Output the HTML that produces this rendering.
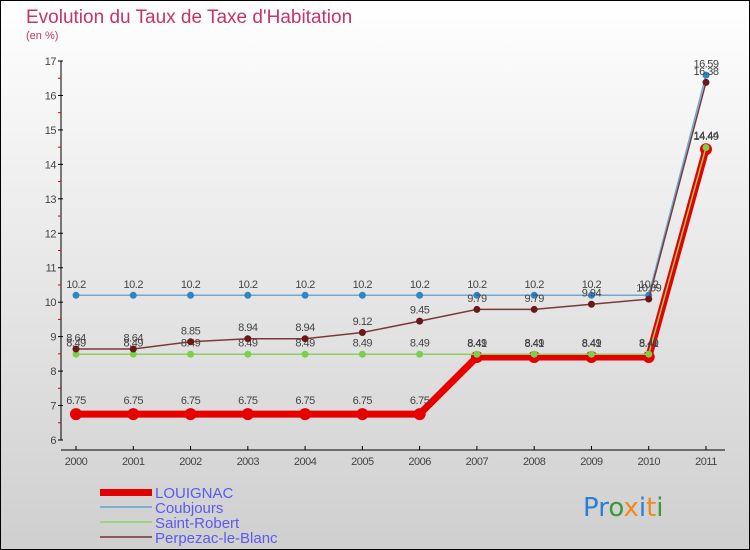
<!DOCTYPE html>
<html><head><meta charset="utf-8"><style>
body{margin:0;}
svg{display:block;font-family:"Liberation Sans",sans-serif;}
</style></head><body>
<svg id="chart" width="750" height="550" viewBox="0 0 750 550">
<defs><linearGradient id="bg" x1="0" y1="0" x2="0" y2="1"><stop offset="0" stop-color="#ffffff"/><stop offset="1" stop-color="#cfcfcf"/></linearGradient></defs>
<rect x="0.5" y="0.5" width="749" height="549" fill="url(#bg)" stroke="#000"/>
<text x="26" y="23" font-size="19" fill="#c8336a">Evolution du Taux de Taxe d'Habitation</text>
<text x="26" y="39" font-size="11" fill="#c8336a">(en %)</text>
<g id="axes"></g>
<g id="series"></g>
<g id="legend">
<rect x="100" y="489" width="52" height="7" fill="#e00000"/>
<text x="155" y="498" font-size="15" fill="#5a5af0">LOUIGNAC</text>
<rect x="100" y="506" width="52" height="2" fill="#7ab0d0"/>
<text x="155" y="513" font-size="15" fill="#5a5af0">Coubjours</text>
<rect x="100" y="521" width="52" height="2" fill="#9ed47a"/>
<text x="155" y="528" font-size="15" fill="#5a5af0">Saint-Robert</text>
<rect x="100" y="536" width="52" height="2" fill="#8a5a5a"/>
<text x="155" y="543" font-size="15" fill="#5a5af0">Perpezac-le-Blanc</text>
</g>
<g font-size="26" font-family="'DejaVu Sans',sans-serif">
<text x="583" y="516"><tspan fill="#2a7fd4">Pr</tspan><tspan fill="#3a9a3a">o</tspan><tspan fill="#f08a1a">x</tspan><tspan fill="#2a7fd4">i</tspan><tspan fill="#f08a1a">t</tspan><tspan fill="#3a9a3a">i</tspan></text>
</g>
</svg>
<script>
const years = [2000,2001,2002,2003,2004,2005,2006,2007,2008,2009,2010,2011];
const louignac = [6.75,6.75,6.75,6.75,6.75,6.75,6.75,8.41,8.41,8.41,8.41,14.44];
const coubjours = [10.2,10.2,10.2,10.2,10.2,10.2,10.2,10.2,10.2,10.2,10.2,16.59];
const saintRobert = [8.49,8.49,8.49,8.49,8.49,8.49,8.49,8.49,8.49,8.49,8.49,14.49];
const perpezac = [8.64,8.64,8.85,8.94,8.94,9.12,9.45,9.79,9.79,9.94,10.09,16.38];
const yTicks = [6,7,8,9,10,11,12,13,14,15,16,17];

const NS="http://www.w3.org/2000/svg";
const x0=76, x1=706, yTop=61, yBot=440, vMin=6, vMax=17;
const xs=i=>x0+(x1-x0)*i/(years.length-1);
const ys=v=>yBot-(v-vMin)*(yBot-yTop)/(vMax-vMin);
function mk(tag,attrs,parent){const e=document.createElementNS(NS,tag);for(const k in attrs)e.setAttribute(k,attrs[k]);parent.appendChild(e);return e;}
const axes=document.getElementById('axes');
const ax=mk('line',{x1:61,y1:yTop,x2:61,y2:yBot,stroke:'#000','stroke-width':1},axes);


const xa=mk('line',{x1:61,y1:450,x2:725,y2:450,stroke:'#000','stroke-width':1},axes);


yTicks.forEach((t,i)=>{
  const y=ys(t);
  mk('line',{x1:58,y1:y,x2:63,y2:y,stroke:'#000'},axes);
  if(i<yTicks.length-1) mk('line',{x1:58,y1:ys(t+0.5),x2:61,y2:ys(t+0.5),stroke:'#e00000'},axes);
  const tx=mk('text',{x:56,y:y+4,'font-size':11,fill:'#444','text-anchor':'end','letter-spacing':'-0.5'},axes);
  tx.textContent=t;
  
  
});
years.forEach((yr,i)=>{
  const x=xs(i);
  mk('line',{x1:x,y1:446,x2:x,y2:450,stroke:'#000'},axes);
  const tx=mk('text',{x:x,y:465,'font-size':11,fill:'#444','text-anchor':'middle','letter-spacing':'-0.5'},axes);
  tx.textContent=yr;
  
  
});
const g=document.getElementById('series');
function series(vals,name,color,width,r,dot){
  const grp=mk('g',{},g);
  
  
  const pl=mk('polyline',{points:vals.map((v,i)=>xs(i)+','+ys(v)).join(' '),fill:'none',stroke:color,'stroke-width':width},grp);
  
  
  vals.forEach((v,i)=>{
    const c=mk('circle',{cx:xs(i),cy:ys(v),r:r,fill:dot},grp);
    
    
    const t=mk('text',{x:xs(i),y:ys(v)-(r+4),'font-size':11,fill:'#444','text-anchor':'middle','letter-spacing':'-0.5'},grp);
    t.textContent=v;
    
    
  });
}
series(louignac,'louignac','#e80000',7,6,'#e80000');
series(coubjours,'coubjours','#6fa8d0',1.5,3.5,'#2f86c4');
series(saintRobert,'saint-robert','#8ad060',1.5,3.5,'#7ad04a');
series(perpezac,'perpezac-le-blanc','#7a3a3a',1.5,3.5,'#6a1818');
</script>
</body></html>
